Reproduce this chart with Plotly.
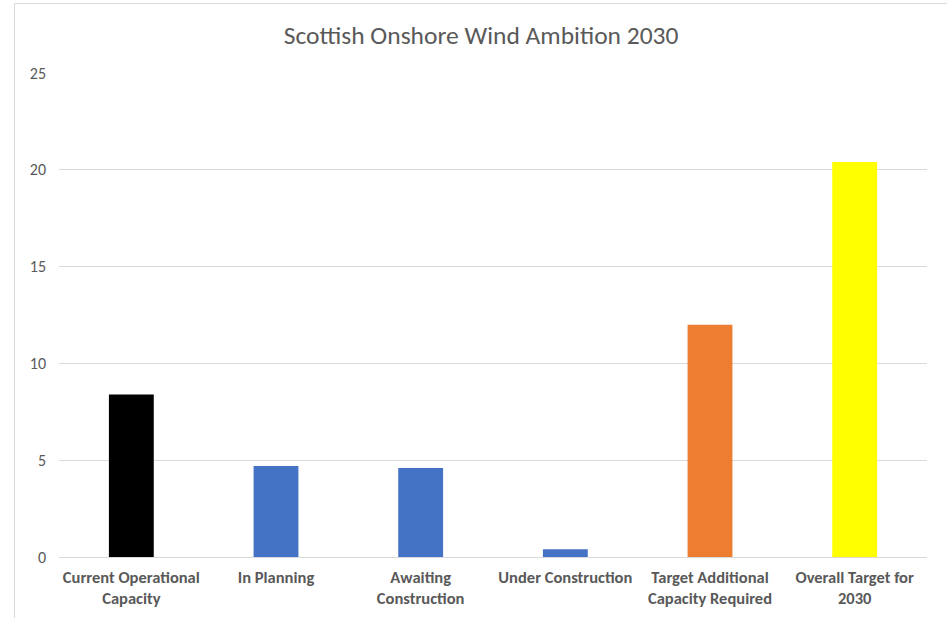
import plotly.graph_objects as go

categories = ["Current Operational<br>Capacity", "In Planning", "Awaiting<br>Construction",
              "Under Construction", "Target Additional<br>Capacity Required", "Overall Target for<br>2030"]
values = [8.4, 4.7, 4.6, 0.4, 12.0, 20.4]
colors = ["#000000", "#4472C4", "#4472C4", "#4472C4", "#ED7D31", "#FFFF00"]
y_ticks = [0, 5, 10, 15, 20, 25]

FONT = "Carlito, Lato, sans-serif"
GRAY = "#595959"

fig = go.Figure(go.Bar(x=categories, y=values, marker=dict(color=colors, line=dict(width=0)),
                       hoverinfo="x+y"))

fig.update_layout(
    width=947, height=618,
    margin=dict(l=59, r=20, t=73, b=61),
    paper_bgcolor="white", plot_bgcolor="white",
    bargap=0.69,
    showlegend=False,
    title=dict(text="Scottish Onshore Wind Ambition 2030", x=0.508, xanchor="center",
               y=1 - 35 / 618, yanchor="middle", yref="container",
               font=dict(family=FONT, size=25.5, color=GRAY)),
    font=dict(family=FONT, color=GRAY),
    xaxis=dict(showgrid=False, showline=False, ticks="", ticklabelstandoff=8, automargin=False,
               tickfont=dict(family=FONT, size=16.5, color=GRAY, weight="bold")),
    yaxis=dict(range=[0, 25], tickvals=y_ticks, showgrid=True, gridcolor="#d9d9d9", gridwidth=1,
               zeroline=True, zerolinecolor="#d9d9d9", zerolinewidth=1, showline=False,
               automargin=False,
               ticklabelstandoff=12, tickfont=dict(family=FONT, size=16, color=GRAY)),
    shapes=[dict(type="rect", xref="paper", yref="paper",
                 x0=(14.5 - 59) / 868, x1=(955 - 59) / 868,
                 y0=(557 - 625) / 484, y1=(557 - 3.5) / 484,
                 line=dict(color="#d9d9d9", width=1), fillcolor="rgba(0,0,0,0)", layer="below")],
)

fig.write_html("out.html")
